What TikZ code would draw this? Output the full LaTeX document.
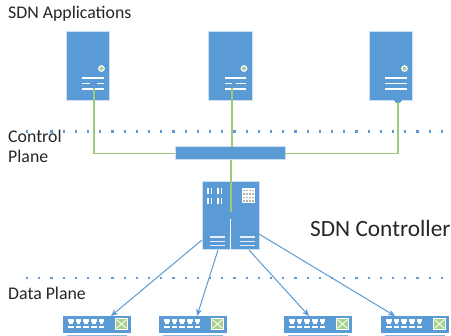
\documentclass[tikz,border=0pt]{standalone}
\usepackage{fontspec}
\setmainfont{Carlito}
\usetikzlibrary{arrows.meta}
\definecolor{bl}{HTML}{5B9BD5}
\definecolor{gr}{HTML}{9CC97C}
\definecolor{lg}{HTML}{A9D18E}
\tikzset{
 x=1pt,y=-1pt,
 boxb/.style={fill=bl,draw=white!70!bl,line width=1pt,inner sep=0,outer sep=0,anchor=north west},
 wl/.style={draw=white,line width=1.4pt},
 glink/.style={draw=gr,line width=1.9pt},
 arr/.style={draw=bl,line width=1pt,-{Stealth[length=7pt,width=6pt]}},
 dots/.style={draw=bl,line width=2.2pt,dash pattern=on 2.2pt off 10pt},
 lab/.style={inner sep=0,anchor=west,text=black!85},
 smallt/.style={lab,font=\fontsize{17.8pt}{20pt}\selectfont},
}
\newcommand{\srv}[2]{%
 \node[boxb,minimum width=43.5pt,minimum height=69pt] (#2) at (#1,32) {};
 \fill[white] (#1+35.5,68.5) circle (3.4pt);
 \fill[lg] (#1+35.5,68.5) circle (2.1pt);
 \draw[wl] (#1+16,78) -- (#1+37.5,78);
 \draw[wl] (#1+16,89) -- (#1+37.5,89);
}
\newcommand{\swi}[2]{%
 \node[boxb,draw=none,minimum width=68pt,minimum height=17pt] (#2) at (#1,316) {};
 \foreach \k in {0,1,2,3,4}{
  \fill[white] (#1+5+\k*7.7,319.5) rectangle ++(5.5,3);
  \fill[white] (#1+6+\k*7.7,322.5) rectangle ++(3.5,2);
  \fill[white] (#1+5+\k*7.7,326) rectangle ++(5.5,2.2);
 }
 \fill[white] (#1+52,318) rectangle ++(13,12);
 \fill[lg] (#1+53,319) rectangle ++(11,10);
 \draw[white,line width=.8pt] (#1+54,320) -- (#1+63,328) (#1+54,328) -- (#1+63,320);
 \draw[bl!70,line width=1pt] (#1+4,335.5) -- ++(60,0);
}
\begin{document}
\begin{tikzpicture}
\useasboundingbox (0,0) rectangle (451,336);
\fill[white] (0,0) rectangle (451,336);
\coordinate (d1a) at (26,131.5); \coordinate (d1b) at (446,131.5);
\coordinate (d2a) at (26,277.7); \coordinate (d2b) at (446,277.7);
\draw[dots] (d1a) -- (d1b);
\draw[dots] (d2a) -- (d2b);
\srv{66}{s1}\srv{208.5}{s2}\srv{369}{s3}
% middle rows: the first two servers have a gap, the third none
\draw[wl] (82,83.5) -- (90,83.5) (97,83.5) -- (103.5,83.5);
\draw[wl] (225,83.5) -- (232,83.5) (236,83.5) -- (246,83.5);
\draw[wl] (385,83.5) -- (406.5,83.5);
\fill[bl] (394,100) -- (402,100) -- (400,103) -- (396,103) -- cycle;
\node[boxb,minimum width=110pt,minimum height=13pt] (bar) at (175,147) {};
\node[boxb,minimum width=57pt,minimum height=68pt] (ctl) at (202,182) {};
\swi{63}{w1}\swi{159}{w2}\swi{284}{w3}\swi{381}{w4}
% connectors
\coordinate (c1) at (94,88); \coordinate (c2) at (232,88); \coordinate (c3) at (398,102);
\coordinate (c4) at (231,160); \coordinate (c5) at (231,212);
\draw[glink] (c1) |- (bar.west);
\draw[glink] (c3) |- (bar.east);
\draw[glink] (c2) -- (bar.north -| c2);
\draw[glink] (c4) -- (c5);
\coordinate (a1) at (202,240); \coordinate (a2) at (218,250); \coordinate (a3) at (249,250); \coordinate (a4) at (259,234);
\draw[arr] (a1) -- (w1.north -| 111,0);
\draw[arr] (a2) -- (w2.north -| 197,0);
\draw[arr] (a3) -- (w3.north -| 309,0);
\draw[arr] (a4) -- (w4.north -| 395,0);
% controller details
\draw[white,line width=1.2pt] (230.5,219) -- (230.5,250);
\foreach \x in {208,218}{\foreach \y in {188,198}{
 \draw[white,line width=1.7pt] (\x,\y) -- ++(0,6);
 \draw[white,line width=1.7pt] (\x+3.5,\y) -- ++(0,6);}}
\fill[white] (242,188) rectangle (255,203);
\foreach \x in {244,247,250,253}{\foreach \y in {190.5,194,197.5,201}{\fill[gray!60] (\x-.7,\y-.7) rectangle ++(1.5,1.5);}}
\foreach \y in {237,241.5,245.5}{\draw[white!85!bl,line width=1.1pt] (210,\y) -- (225,\y) (240,\y) -- (255,\y);}
% labels
\node[smallt] (t1) at (8,14) {SDN Applications};
\node[smallt] (t2) at (8,136) {Control};
\node[smallt] (t3) at (8,156) {Plane};
\node[smallt] (t4) at (8,293) {Data Plane};
\node[lab,font=\fontsize{23.3pt}{26pt}\selectfont] (t5) at (310,229) {SDN Controller};
\end{tikzpicture}
\end{document}
